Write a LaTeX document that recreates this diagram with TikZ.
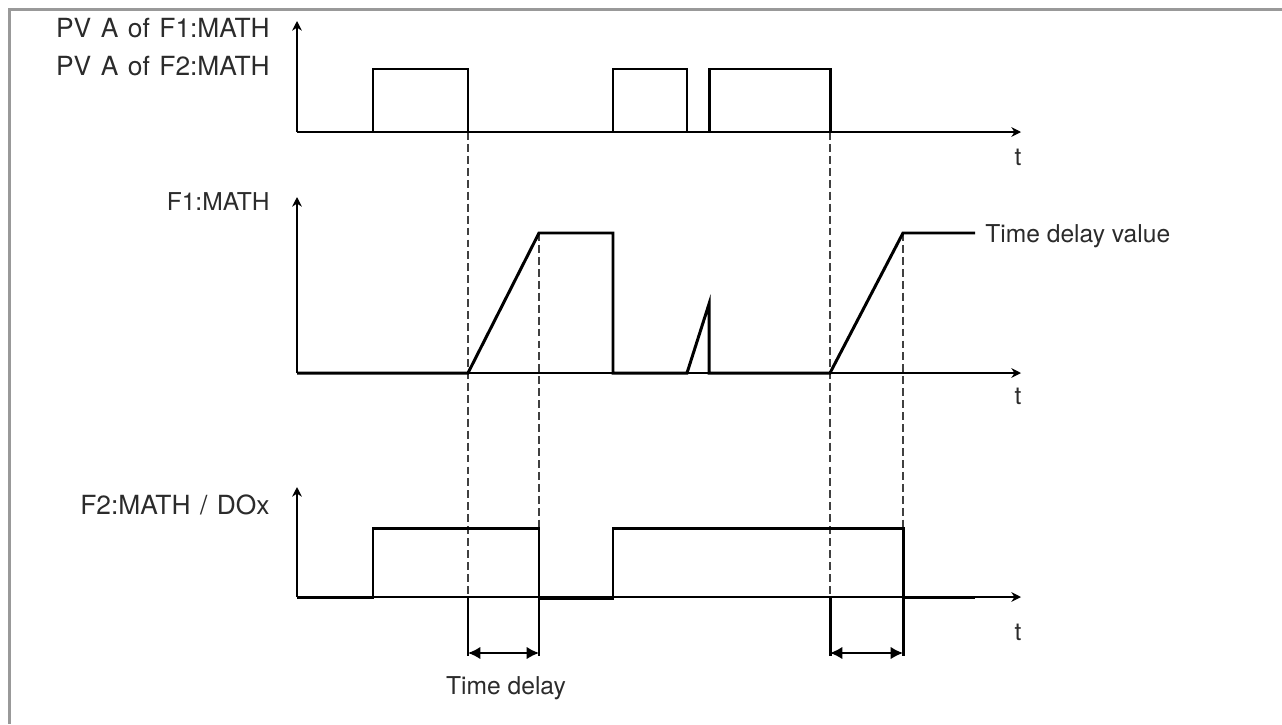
\documentclass[tikz,border=0pt]{standalone}
\usepackage{fontspec}
\setmainfont{TeX Gyre Heros}
\newfontfamily\widefont[WordSpace=1.3]{TeX Gyre Heros}
\usepackage{xcolor}
\usetikzlibrary{arrows.meta}
\definecolor{frameGray}{HTML}{999999}
\definecolor{textGray}{HTML}{2B2B2B}
\tikzset{
  sig/.style={line width=1.7pt,line join=miter},
  axis/.style={line width=0.75pt,-{Stealth[length=5.5pt,width=5.5pt]}},
  guide/.style={dash pattern=on 4.5pt off 2.3pt,line width=0.6pt,black!75},
  lbl/.style={text=textGray,font=\fontsize{14}{17}\selectfont,inner sep=0pt},
  ylbl/.style={lbl,font=\widefont\fontsize{15}{18}\selectfont,anchor=base east},
  span/.style={line width=0.8pt,{Latex[length=7pt,width=7pt]}-{Latex[length=7pt,width=7pt]}}
}

\begin{document}
\begin{tikzpicture}[x=0.02cm,y=-0.02cm]
\useasboundingbox (0,0) rectangle (1282,724);
\draw[frameGray,line width=1.3pt] (1282,9.5) -- (9.5,9.5) -- (9.5,724);

\coordinate (oA) at (297,132);
\coordinate (oB) at (297,373);
\coordinate (oC) at (297,597);

\node[ylbl] (pv1) at (270,37) {PV A of F1:MATH};
\node[ylbl] (pv2) at (270,75) {PV A of F2:MATH};
\node[lbl,anchor=base east] (f1) at (270,210) {F1:MATH};
\node[ylbl] (f2) at (270,514) {F2:MATH / DOx};
\node[lbl,anchor=base] (tA) at (1018,165) {t};
\node[lbl,anchor=base] (tB) at (1018,404) {t};
\node[lbl,anchor=base] (tC) at (1018,640) {t};
\node[lbl,anchor=base west] (tdv) at (985,242) {Time delay value};
\node[lbl,anchor=base] (td) at (506,694) {Time delay};

\draw[guide] (468,132) -- (468,597);
\draw[guide] (539,233) -- (539,528);
\draw[guide] (830,132) -- (830,597);
\draw[guide] (903,233) -- (903,528);

\draw[axis] (oA) -- (297,21);
\draw[axis] (oA) -- (1021,132);
\draw[axis] (oB) -- (297,197);
\draw[axis] (oB) -- (1021,373);
\draw[axis] (oC) -- (297,487);
\draw[axis] (oC) -- (1021,597);

\draw[sig] (oA) -- (373,132) -- (373,69) -- (468,69) -- (468,132) -- (613,132) -- (613,69)
  -- (687,69) -- (687,132) -- (709,132) -- (709,69) -- (830,69) -- (830,132) -- (975,132);
\draw[sig] (oB) -- (468,373) -- (539,233) -- (613,233) -- (613,373) -- (687,373) -- (709,304)
  -- (709,373) -- (830,373) -- (903,233) -- (975,233);
\draw[sig] (oC) -- (373,597) -- (373,528) -- (539,528) -- (539,656);
\draw[sig] (539,598.5) -- (613,598.5) -- (613,528) -- (903,528) -- (903,656);
\draw[sig] (903,597) -- (975,597);
\draw[sig] (468,597) -- (468,656);
\draw[sig] (830,597) -- (830,656);

\draw[span] (468,653) -- (539,653);
\draw[span] (830,653) -- (903,653);
\end{tikzpicture}
\end{document}
